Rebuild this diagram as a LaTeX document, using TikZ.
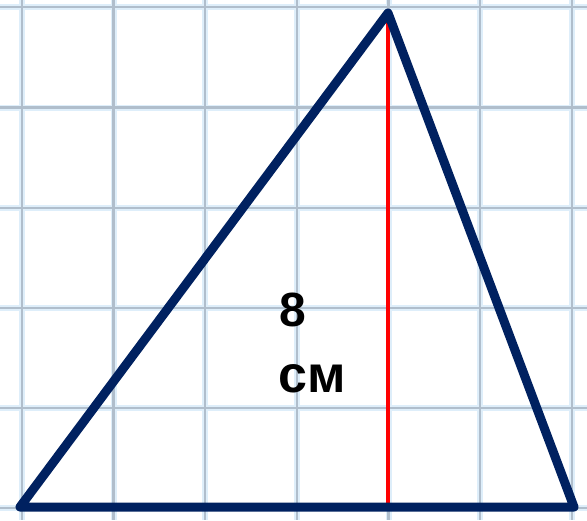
\documentclass[tikz,border=0pt]{standalone}
\usepackage{fontspec}
\setmainfont{Liberation Sans}
\definecolor{navy}{RGB}{0,33,96}
\definecolor{gridline}{RGB}{176,190,204}
\definecolor{gridglow}{RGB}{222,238,250}
\definecolor{hred}{RGB}{255,0,0}
\tikzset{
  glow/.style={draw=gridglow, line width=6pt},
  gline/.style={draw=gridline, line width=2.6pt},
  side/.style={draw=navy, line width=9pt, line join=round, line cap=round},
  height/.style={draw=hred, line width=3.8pt},
  label/.style={font=\bfseries\fontsize{48}{48}\selectfont, text=black, inner sep=0pt}
}
\begin{document}
\begin{tikzpicture}[x=1pt, y=-1pt]
\useasboundingbox[fill=white] (0,0) rectangle (587,520);
% grid
\foreach \gx in {22,113.5,205,297,388.5,480,572} {
  \draw[glow] (\gx,0) -- (\gx,520);
}
\foreach \gy in {7,107.5,208,308,408,508} {
  \draw[glow] (0,\gy) -- (587,\gy);
}
\foreach \gx in {22,113.5,205,297,388.5,480,572} {
  \draw[gline] (\gx,0) -- (\gx,520);
}
\foreach \gy in {7,107.5,208,308,408,508} {
  \draw[gline] (0,\gy) -- (587,\gy);
}
% triangle
\coordinate (A) at (20,507);
\coordinate (B) at (574,507);
\coordinate (C) at (388,13);
\coordinate (H) at (388,507);
\draw[height] (C) -- (H);
\draw[side] (A) -- (C) -- (B) -- cycle;
% labels
\node[label] (n8) at (293,310) {8};
\node[label, font=\bfseries\fontsize{52}{52}\selectfont] (ncm) at (312.5,378.5) {см};
\end{tikzpicture}
\end{document}
